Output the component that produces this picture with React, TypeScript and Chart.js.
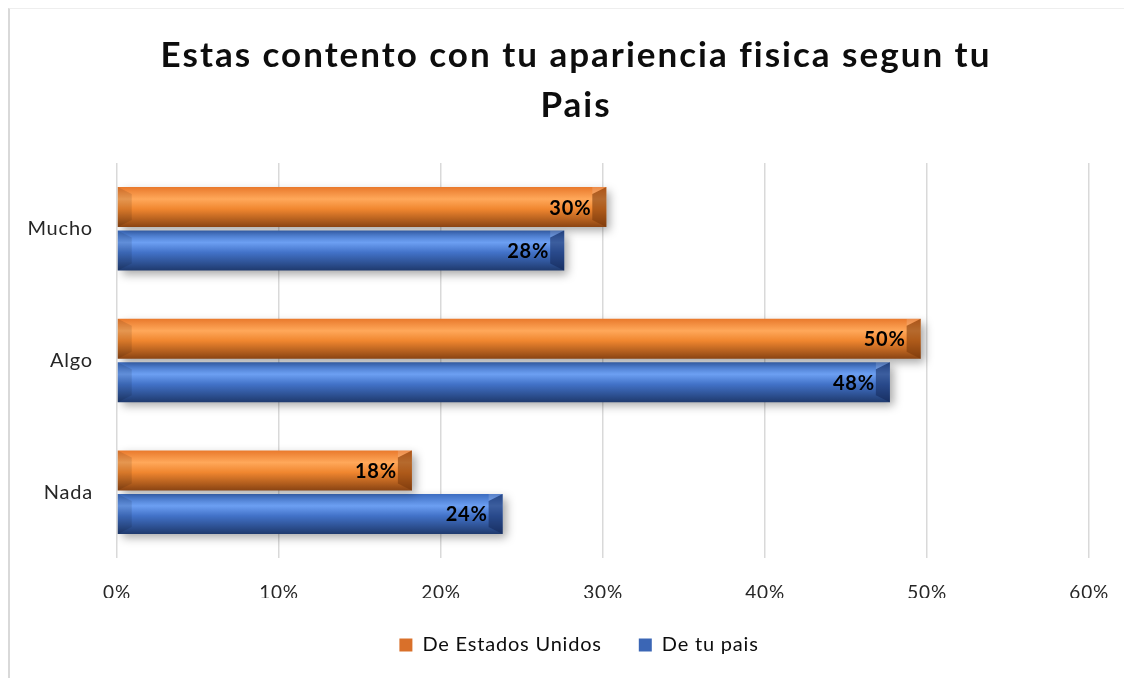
import React, { useEffect, useRef } from "react";
import { Chart, registerables } from "chart.js";

Chart.register(...registerables);

const categories = ["Mucho", "Algo", "Nada"];
const estadosUnidos = [30.2, 49.6, 18.2];
const tuPais = [27.6, 47.7, 23.8];
const seriesNames = ["De Estados Unidos", "De tu pais"];
const titleLines = ["Estas contento con tu apariencia fisica segun tu", "Pais"];
const xMax = 60;
const xStep = 10;

const FONT = "Lato, 'Open Sans', sans-serif";

const palettes = [
  { top: "#e9792c", hi: "#ffa85a", mid: "#f0862f", dark: "#8a4413", cap: "rgba(120,55,10,0.55)" },
  { top: "#3c6cc0", hi: "#6c9ff2", mid: "#4272c8", dark: "#1f3a6e", cap: "rgba(20,40,90,0.55)" },
];

const spacing = {
  id: "spacing",
  beforeLayout(chart: any) {
    chart.ctx.letterSpacing = "0.8px";
  },
  afterLayout(chart: any) {
    const lg = chart.legend;
    if (lg) {
      lg.left += 29;
      lg.right += 29;
    }
  },
  beforeDraw(chart: any) {
    chart.ctx.letterSpacing = "0.8px";
  },
};

const titlePlugin = {
  id: "titleText",
  afterDraw(chart: any) {
    const ctx = chart.ctx;
    ctx.save();
    ctx.letterSpacing = "2px";
    ctx.font = `bold 35px ${FONT}`;
    ctx.fillStyle = "#0d0d0d";
    ctx.textAlign = "center";
    ctx.textBaseline = "middle";
    titleLines.forEach((line, i) => {
      ctx.fillText(line, 566, 47 + i * 50);
    });
    ctx.restore();
  },
};

const barStyle = {
  id: "barStyle",
  beforeDatasetsDraw(chart: any) {
    const ctx = chart.ctx;
    chart.data.datasets.forEach((_: any, di: number) => {
      const meta = chart.getDatasetMeta(di);
      const p = palettes[di];
      meta.data.forEach((el: any) => {
        const { y, height } = el.getProps(["y", "height"], true);
        const top = y - height / 2;
        const bottom = y + height / 2;
        const g = ctx.createLinearGradient(0, top, 0, bottom);
        g.addColorStop(0, p.top);
        g.addColorStop(0.3, p.hi);
        g.addColorStop(0.55, p.mid);
        g.addColorStop(1, p.dark);
        el.options = { ...el.options, backgroundColor: g };
      });
    });
  },
  beforeDatasetDraw(chart: any) {
    const ctx = chart.ctx;
    ctx.save();
    ctx.shadowColor = "rgba(0,0,0,0.35)";
    ctx.shadowBlur = 9;
    ctx.shadowOffsetX = 4;
    ctx.shadowOffsetY = 4;
  },
  afterDatasetDraw(chart: any) {
    chart.ctx.restore();
  },
  afterDatasetsDraw(chart: any) {
    const ctx = chart.ctx;
    chart.data.datasets.forEach((ds: any, di: number) => {
      const meta = chart.getDatasetMeta(di);
      const p = palettes[di];
      meta.data.forEach((el: any, i: number) => {
        const { x, y, base, height } = el.getProps(["x", "y", "base", "height"], true);
        const top = y - height / 2;
        const bottom = y + height / 2;
        const b = 14;
        ctx.save();
        ctx.beginPath();
        ctx.moveTo(x - b, top + b * 0.5);
        ctx.lineTo(x, top);
        ctx.lineTo(x, bottom);
        ctx.lineTo(x - b, bottom - b * 0.5);
        ctx.closePath();
        ctx.fillStyle = p.cap;
        ctx.fill();
        ctx.beginPath();
        ctx.moveTo(x - b, top);
        ctx.lineTo(x, top);
        ctx.lineTo(x - b, top + b * 0.5);
        ctx.closePath();
        ctx.fillStyle = "rgba(255,255,255,0.15)";
        ctx.fill();
        ctx.beginPath();
        ctx.moveTo(base, top);
        ctx.lineTo(base + b, top + b * 0.5);
        ctx.lineTo(base + b, bottom - b * 0.5);
        ctx.lineTo(base, bottom);
        ctx.closePath();
        ctx.fillStyle = "rgba(0,0,0,0.10)";
        ctx.fill();
        ctx.restore();
        const v = ds.data[i];
        ctx.save();
        ctx.font = `bold 20px ${FONT}`;
        ctx.fillStyle = "#000000";
        ctx.textAlign = "right";
        ctx.textBaseline = "middle";
        ctx.fillText(`${Math.round(v)}%`, x - 15, y + 1);
        ctx.restore();
      });
    });
  },
};

export default function App() {
  const ref = useRef<HTMLCanvasElement | null>(null);
  useEffect(() => {
    if (!ref.current) return;
    const chart = new Chart(ref.current, {
      type: "bar",
      data: {
        labels: categories,
        datasets: [
          { label: seriesNames[0], data: estadosUnidos, backgroundColor: "#d9702a", borderWidth: 0 },
          { label: seriesNames[1], data: tuPais, backgroundColor: "#3b66b5", borderWidth: 0 },
        ],
      },
      options: {
        indexAxis: "y",
        animation: false,
        responsive: true,
        maintainAspectRatio: false,
        categoryPercentage: 0.66,
        barPercentage: 0.92,
        layout: { padding: { left: 0, right: 42, top: 154, bottom: 13 } },
        scales: {
          x: {
            min: 0,
            max: xMax,
            ticks: {
              stepSize: xStep,
              callback: (v: any) => `${v}%`,
              color: "#262626",
              font: { family: FONT, size: 19 },
              padding: 23,
            },
            grid: { color: "#d9d9d9", lineWidth: 1.5, drawTicks: false },
            border: { display: false },
            afterFit: (s: any) => {
              s.height = 40;
            },
          },
          y: {
            ticks: {
              color: "#262626",
              font: { family: FONT, size: 20 },
              padding: 24,
            },
            grid: { display: false, drawTicks: false },
            border: { display: false },
            afterFit: (s: any) => {
              s.width = 107;
            },
          },
        },
        plugins: {
          title: { display: false },
          legend: {
            position: "bottom",
            labels: {
              boxWidth: 13,
              boxHeight: 13,
              color: "#0d0d0d",
              font: { family: FONT, size: 20 },
              padding: 37,
            },
          },
          tooltip: { enabled: false },
        },
      },
      plugins: [spacing, barStyle, titlePlugin],
    });
    return () => chart.destroy();
  }, []);
  return (
    <div
      style={{
        width: 1124,
        height: 670,
        borderLeft: "2px solid #d9d9d9",
        borderTop: "1px solid #eeeeee",
        boxSizing: "border-box",
        position: "relative",
        background: "#ffffff",
      }}
    >
      <canvas ref={ref} />
    </div>
  );
}
